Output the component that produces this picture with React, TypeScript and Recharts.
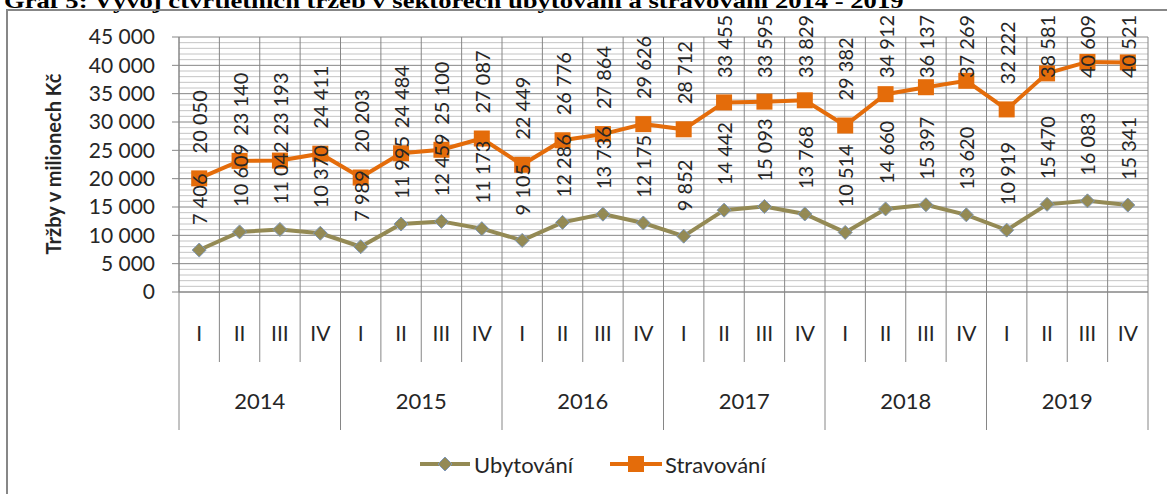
import { LineChart, Line, XAxis, YAxis, CartesianGrid, LabelList } from "recharts";

const years = ["2014", "2015", "2016", "2017", "2018", "2019"];
const quarters = ["I", "II", "III", "IV"];
const ubytovani = [
  7406, 10609, 11042, 10370, 7989, 11995, 12459, 11173, 9105, 12286, 13736, 12175,
  9852, 14442, 15093, 13768, 10514, 14660, 15397, 13620, 10919, 15470, 16083, 15341,
];
const stravovani = [
  20050, 23140, 23193, 24411, 20203, 24484, 25100, 27087, 22449, 26776, 27864, 29626,
  28712, 33455, 33595, 33829, 29382, 34912, 36137, 37269, 32222, 38581, 40609, 40521,
];
const yTicks = [0, 5000, 10000, 15000, 20000, 25000, 30000, 35000, 40000, 45000];
const minorTicks = Array.from({ length: 46 }, (_, i) => i * 1000).filter((v) => v % 5000 !== 0);

const data = ubytovani.map((u, i) => ({
  key: `${years[Math.floor(i / 4)]}-${quarters[i % 4]}`,
  ubytovani: u,
  stravovani: stravovani[i],
}));

const W = 1167;
const H = 494;
const Y_AXIS_W = 179;
const MARGIN = { top: 37, right: 19, bottom: 0, left: 0 };
const BAND = (W - Y_AXIS_W - MARGIN.right) / data.length;

const FONT = "Lato, 'Open Sans', sans-serif";
const TEXT = "#262626";
const GRID = "#868686";
const MINOR = "#c4c4c4";
const OLIVE = "#948A54";
const DIAMOND_EDGE = "#7E97B8";
const ORANGE = "#E46C0A";

const fmt = (v: number) => String(v).replace(/\B(?=(\d{3})+(?!\d))/g, " ");

function renderXTick(props: any) {
  const { x, y, index } = props;
  const half = BAND / 2;
  const yearStart = index % 4 === 0;
  return (
    <g>
      <line x1={x - half} x2={x - half} y1={y} y2={y + (yearStart ? 138 : 70)} stroke={GRID} />
      {index === data.length - 1 && (
        <line x1={x + half} x2={x + half} y1={y} y2={y + 138} stroke={GRID} />
      )}
      <text x={x} y={y + 40} textAnchor="middle" dominantBaseline="central" fontSize={21} fill={TEXT} fontFamily={FONT}>
        {quarters[index % 4]}
      </text>
      {index % 4 === 1 && (
        <text x={x + half} y={y + 108} textAnchor="middle" dominantBaseline="central" fontSize={22} fill={TEXT} fontFamily={FONT}>
          {years[Math.floor(index / 4)]}
        </text>
      )}
    </g>
  );
}

// labels sit above the point, but Excel pushes the top ones down to stay inside the chart area
function renderLabel(props: any) {
  const { x, y, value } = props;
  const base = Math.max(y - 25, 78);
  return (
    <text
      x={x}
      y={base}
      transform={`rotate(-90, ${x}, ${base})`}
      textAnchor="start"
      dominantBaseline="central"
      fontSize={20}
      fill={TEXT}
      fontFamily={FONT}
    >
      {fmt(value)}
    </text>
  );
}

function renderSquare(props: any) {
  const { cx, cy, index } = props;
  return <rect key={`s${index}`} x={cx - 8} y={cy - 8} width={16} height={16} fill={ORANGE} />;
}

function renderDiamond(props: any) {
  const { cx, cy, index } = props;
  return (
    <polygon
      key={`d${index}`}
      points={`${cx},${cy - 7} ${cx + 7},${cy} ${cx},${cy + 7} ${cx - 7},${cy}`}
      fill={OLIVE}
      stroke={DIAMOND_EDGE}
      strokeWidth={1}
    />
  );
}

function minorLines({ yAxis, offset }: any) {
  if (yAxis && typeof yAxis.scale === "function") return minorTicks.map((v) => yAxis.scale(v));
  return minorTicks.map((v) => offset.top + offset.height * (1 - v / 45000));
}

function boundaryLines({ offset }: any) {
  return data.map((_, i) => offset.left + (i * offset.width) / data.length).concat(offset.left + offset.width);
}

export default function App() {
  return (
    <div style={{ position: "absolute", left: 0, top: 0, width: W, height: H, overflow: "hidden", background: "#fff" }}>
      <div
        style={{
          position: "absolute",
          left: 4,
          top: -9,
          fontFamily: "'Liberation Serif', 'Times New Roman', serif",
          fontWeight: "bold",
          fontSize: 22,
          lineHeight: "20px",
          whiteSpace: "nowrap",
          color: "#000",
          transform: "scaleX(1.21)",
          transformOrigin: "0 0",
        }}
      >
        Graf 5: Vývoj čtvrtletních tržeb v sektorech ubytování a stravování 2014 - 2019
      </div>
      <div
        style={{
          position: "absolute",
          left: 6,
          top: 9,
          width: W,
          height: H,
          borderLeft: "2px solid #878787",
          borderTop: "2px solid #878787",
        }}
      />
      <div style={{ position: "absolute", left: 0, top: 0 }}>
        <LineChart width={W} height={H} data={data} margin={MARGIN}>
          <CartesianGrid horizontalCoordinatesGenerator={minorLines} vertical={false} stroke={MINOR} />
          <CartesianGrid verticalCoordinatesGenerator={boundaryLines} stroke={GRID} />
          <XAxis
            dataKey="key"
            height={202}
            interval={0}
            padding={{ left: BAND / 2, right: BAND / 2 }}
            tickLine={false}
            tickSize={0}
            tickMargin={0}
            axisLine={{ stroke: GRID }}
            tick={renderXTick}
          />
          <YAxis
            domain={[0, 45000]}
            ticks={yTicks}
            interval={0}
            width={Y_AXIS_W}
            tickSize={7}
            tickMargin={17}
            axisLine={{ stroke: GRID }}
            tickLine={{ stroke: GRID }}
            tick={{ fontSize: 21, fill: TEXT, fontFamily: FONT }}
            tickFormatter={fmt}
            label={() => (
              <text
                x={53}
                y={164}
                transform="rotate(-90, 53, 164)"
                textAnchor="middle"
                dominantBaseline="central"
                fontSize={20}
                fontWeight="bold"
                fill={TEXT}
                fontFamily={FONT}
              >
                Tržby v milionech Kč
              </text>
            )}
          />
          <Line
            dataKey="stravovani"
            name="Stravování"
            stroke={ORANGE}
            strokeWidth={4}
            dot={renderSquare}
            activeDot={false}
            isAnimationActive={false}
          >
            <LabelList dataKey="stravovani" content={renderLabel} />
          </Line>
          <Line
            dataKey="ubytovani"
            name="Ubytování"
            stroke={OLIVE}
            strokeWidth={4}
            dot={renderDiamond}
            activeDot={false}
            isAnimationActive={false}
          >
            <LabelList dataKey="ubytovani" content={renderLabel} />
          </Line>
        </LineChart>
      </div>
      <svg style={{ position: "absolute", left: 0, top: 440 }} width={W} height={50}>
        <line x1={420} x2={470} y1={24} y2={24} stroke={OLIVE} strokeWidth={4} />
        <polygon points="445,17 452,24 445,31 438,24" fill={OLIVE} stroke={DIAMOND_EDGE} strokeWidth={1} />
        <text x={474} y={24} dominantBaseline="central" fontSize={22} fill={TEXT} fontFamily={FONT}>
          Ubytování
        </text>
        <line x1={610} x2={662} y1={24} y2={24} stroke={ORANGE} strokeWidth={4} />
        <rect x={628} y={16} width={16} height={16} fill={ORANGE} />
        <text x={665} y={24} dominantBaseline="central" fontSize={22} fill={TEXT} fontFamily={FONT}>
          Stravování
        </text>
      </svg>
    </div>
  );
}
